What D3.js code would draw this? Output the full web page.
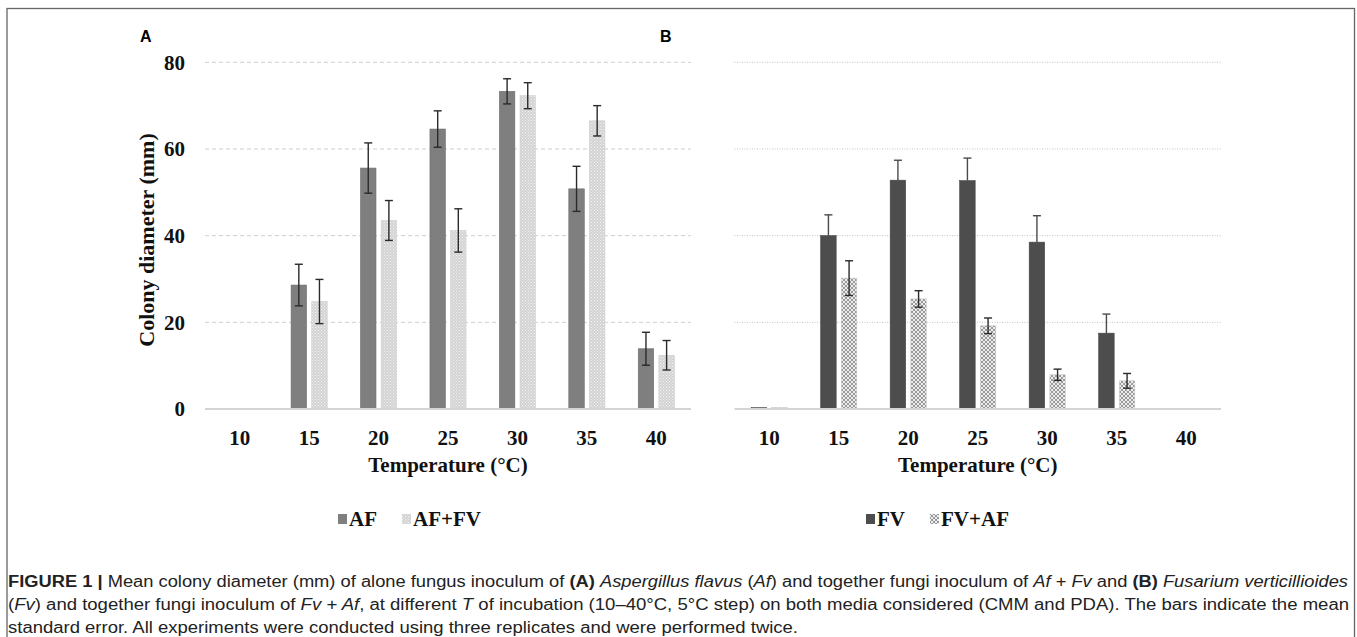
<!DOCTYPE html>
<html>
<head>
<meta charset="utf-8">
<script src="https://cdn.jsdelivr.net/npm/d3@7"></script>
<style>
  html, body { margin: 0; padding: 0; background: #fff; }
  svg { display: block; }
</style>
</head>
<body>
<svg id="chart" width="1357" height="637"></svg>
<script>
// ---------------- DATA ----------------
const temperatures = ["10", "15", "20", "25", "30", "35", "40"];
const yTicks = [0, 20, 40, 60, 80];

// Panel A
const afValues     = [0, 28.6, 55.6, 64.6, 73.3, 50.8, 13.9];
const afErrors     = [0, 4.8, 5.8, 4.2, 2.9, 5.2, 3.8];
const afFvValues   = [0, 24.8, 43.5, 41.2, 72.3, 66.5, 12.4];
const afFvErrors   = [0, 5.1, 4.6, 5.0, 3.0, 3.5, 3.4];

// Panel B
const fvValues     = [0.3, 40.0, 52.8, 52.7, 38.5, 17.5, 0];
const fvErrors     = [0, 4.8, 4.6, 5.2, 6.1, 4.4, 0];
const fvAfValues   = [0.3, 30.2, 25.4, 19.2, 7.9, 6.5, 0];
const fvAfErrors   = [0, 4.0, 1.9, 1.8, 1.3, 1.7, 0];

const panelALabel = "A";
const panelBLabel = "B";
const yTitle = "Colony diameter (mm)";
const xTitle = "Temperature (°C)";
const captionLines = [
  [["b","FIGURE 1 | "],["n","Mean colony diameter (mm) of alone fungus inoculum of "],["b","(A) "],["i","Aspergillus flavus"],["n"," ("],["i","Af"],["n",") and together fungi inoculum of "],["i","Af + Fv"],["n"," and "],["b","(B) "],["i","Fusarium verticillioides"]],
  [["n","("],["i","Fv"],["n",") and together fungi inoculum of "],["i","Fv + Af"],["n",", at different "],["i","T"],["n"," of incubation (10–40°C, 5°C step) on both media considered (CMM and PDA). The bars indicate the mean"]],
  [["n","standard error. All experiments were conducted using three replicates and were performed twice."]]
];

// ---------------- DRAW ----------------
const svg = d3.select("#chart");
const defs = svg.append("defs");

// pattern for AF+FV (fine light stipple)
const pA = defs.append("pattern").attr("id","patA").attr("patternUnits","userSpaceOnUse")
  .attr("width",3).attr("height",3);
pA.append("rect").attr("width",3).attr("height",3).attr("fill","#d3d3d3");
pA.append("rect").attr("x",0).attr("y",0).attr("width",1).attr("height",1).attr("fill","#f2f2f2");
pA.append("rect").attr("x",1.5).attr("y",1.5).attr("width",1).attr("height",1).attr("fill","#f2f2f2");

// pattern for FV+AF (checker / crosshatch)
const pB = defs.append("pattern").attr("id","patB").attr("patternUnits","userSpaceOnUse")
  .attr("width",4).attr("height",4);
pB.append("rect").attr("width",4).attr("height",4).attr("fill","#ececec");
pB.append("path").attr("d","M0,0 L4,4 M4,0 L0,4").attr("stroke","#9a9a9a").attr("stroke-width",1);

const serif = "'Liberation Serif', 'Times New Roman', serif";
const sans = "'Liberation Sans', Arial, sans-serif";

// frame
svg.append("rect").attr("x",7).attr("y",8.5).attr("width",1347.5).attr("height",640)
  .attr("fill","none").attr("stroke","#666").attr("stroke-width",1.3);

const y = d3.scaleLinear().domain([0, 80]).range([409, 62.3]);

function panel(opts) {
  const g = svg.append("g");
  const x0 = d3.scaleBand().domain(temperatures).range(opts.range)
    .paddingInner(0.48).paddingOuter(0.24);
  const x1 = d3.scaleBand().domain(opts.series.map(s => s.name))
    .range([0, x0.bandwidth()]).paddingInner(0.25);

  // gridlines
  g.append("g").selectAll("line").data(yTicks.filter(t => t > 0)).join("line")
    .attr("x1", opts.range[0]).attr("x2", opts.range[1])
    .attr("y1", d => y(d)).attr("y2", d => y(d))
    .attr("stroke", opts.gridColor).attr("stroke-width", 1)
    .attr("stroke-dasharray", opts.gridDash);

  // bars
  opts.series.forEach(s => {
    const data = temperatures.map((t, i) => ({t, v: s.values[i], e: s.errors[i]}));
    g.append("g").selectAll("rect").data(data.filter(d => d.v > 0)).join("rect")
      .attr("x", d => x0(d.t) + x1(s.name))
      .attr("width", x1.bandwidth())
      .attr("y", d => y(d.v))
      .attr("height", d => y(0) - y(d.v))
      .attr("fill", s.fill)
      .attr("stroke", s.stroke).attr("stroke-width", 0.6);
    const eb = g.append("g").attr("stroke", s.errColor).attr("stroke-width", 1.4);
    data.filter(d => d.e > 0).forEach(d => {
      const cx = x0(d.t) + x1(s.name) + x1.bandwidth() / 2;
      const top = y(d.v + d.e);
      const bot = s.plusOnly ? y(d.v) : y(d.v - d.e);
      eb.append("line").attr("x1", cx).attr("x2", cx).attr("y1", top).attr("y2", bot);
      eb.append("line").attr("x1", cx - 4).attr("x2", cx + 4).attr("y1", top).attr("y2", top);
      if (!s.plusOnly)
        eb.append("line").attr("x1", cx - 4).attr("x2", cx + 4).attr("y1", bot).attr("y2", bot);
    });
  });

  // zero line
  g.append("line").attr("x1", opts.range[0]).attr("x2", opts.range[1])
    .attr("y1", y(0)).attr("y2", y(0)).attr("stroke", "#d4d4d4").attr("stroke-width", 2);

  // x axis
  const xa = g.append("g").attr("transform", `translate(0,${y(0)})`)
    .call(d3.axisBottom(x0).tickSize(0).tickPadding(21));
  xa.select(".domain").remove();
  xa.selectAll("text").attr("font-family", serif).attr("font-weight", "bold")
    .attr("font-size", 21).attr("fill", "#111");

  // x title
  g.append("text").attr("x", (opts.range[0] + opts.range[1]) / 2).attr("y", 472)
    .attr("text-anchor", "middle").attr("font-family", serif).attr("font-weight", "bold")
    .attr("font-size", 21).attr("fill", "#111").text(xTitle);

  // panel label
  g.append("text").attr("x", opts.labelX).attr("y", 42).attr("font-family", sans)
    .attr("font-weight", "bold").attr("font-size", 16).attr("fill", "#000").text(opts.label);

  // legend
  const lg = g.append("g");
  let lx = opts.legendX;
  opts.series.forEach((s, i) => {
    lg.append("rect").attr("x", lx).attr("y", 514).attr("width", 9).attr("height", 10)
      .attr("fill", s.fill);
    const tx = lg.append("text").attr("x", lx + 11).attr("y", 526)
      .attr("font-family", serif).attr("font-weight", "bold").attr("font-size", 21)
      .attr("fill", "#111").text(s.name);
    lx += 11 + tx.node().getComputedTextLength() + 25;
  });

  if (opts.yAxis) {
    const ya = g.append("g").attr("transform", `translate(${opts.range[0] - 20},0)`)
      .call(d3.axisLeft(y).tickValues(yTicks).tickSize(0).tickPadding(0));
    ya.select(".domain").remove();
    ya.selectAll("text").attr("font-family", serif).attr("font-weight", "bold")
      .attr("font-size", 21).attr("fill", "#111");
    g.append("text").attr("transform", "translate(154,240) rotate(-90)")
      .attr("text-anchor", "middle").attr("font-family", serif).attr("font-weight", "bold")
      .attr("font-size", 22).attr("fill", "#111").text(yTitle);
  }
}

panel({
  range: [205, 691], label: panelALabel, labelX: 140, legendX: 338, yAxis: true,
  gridColor: "#cfcfcf", gridDash: "4,3",
  series: [
    {name: "AF", values: afValues, errors: afErrors, fill: "#7f7f7f", stroke: "#6f6f6f", errColor: "#2a2a2a", plusOnly: false},
    {name: "AF+FV", values: afFvValues, errors: afFvErrors, fill: "url(#patA)", stroke: "#cfcfcf", errColor: "#2a2a2a", plusOnly: false}
  ]
});

panel({
  range: [734.5, 1221], label: panelBLabel, labelX: 660, legendX: 866, yAxis: false,
  gridColor: "#c4c4c4", gridDash: "1,1.5",
  series: [
    {name: "FV", values: fvValues, errors: fvErrors, fill: "#4d4d4d", stroke: "#444", errColor: "#4a4a4a", plusOnly: true},
    {name: "FV+AF", values: fvAfValues, errors: fvAfErrors, fill: "url(#patB)", stroke: "#c8c8c8", errColor: "#2a2a2a", plusOnly: false}
  ]
});

// caption
const capWidths = [1340, 1341, 790];
const capY = [587, 610, 633];
captionLines.forEach((line, i) => {
  const t = svg.append("text").attr("x", 8).attr("y", capY[i])
    .attr("font-family", sans).attr("font-size", 16).attr("fill", "#222")
    .attr("textLength", capWidths[i]).attr("lengthAdjust", "spacingAndGlyphs");
  line.forEach(([st, txt]) => {
    const ts = t.append("tspan").text(txt);
    if (st === "b") ts.attr("font-weight", "bold");
    if (st === "i") ts.attr("font-style", "italic");
  });
});
</script>
</body>
</html>
